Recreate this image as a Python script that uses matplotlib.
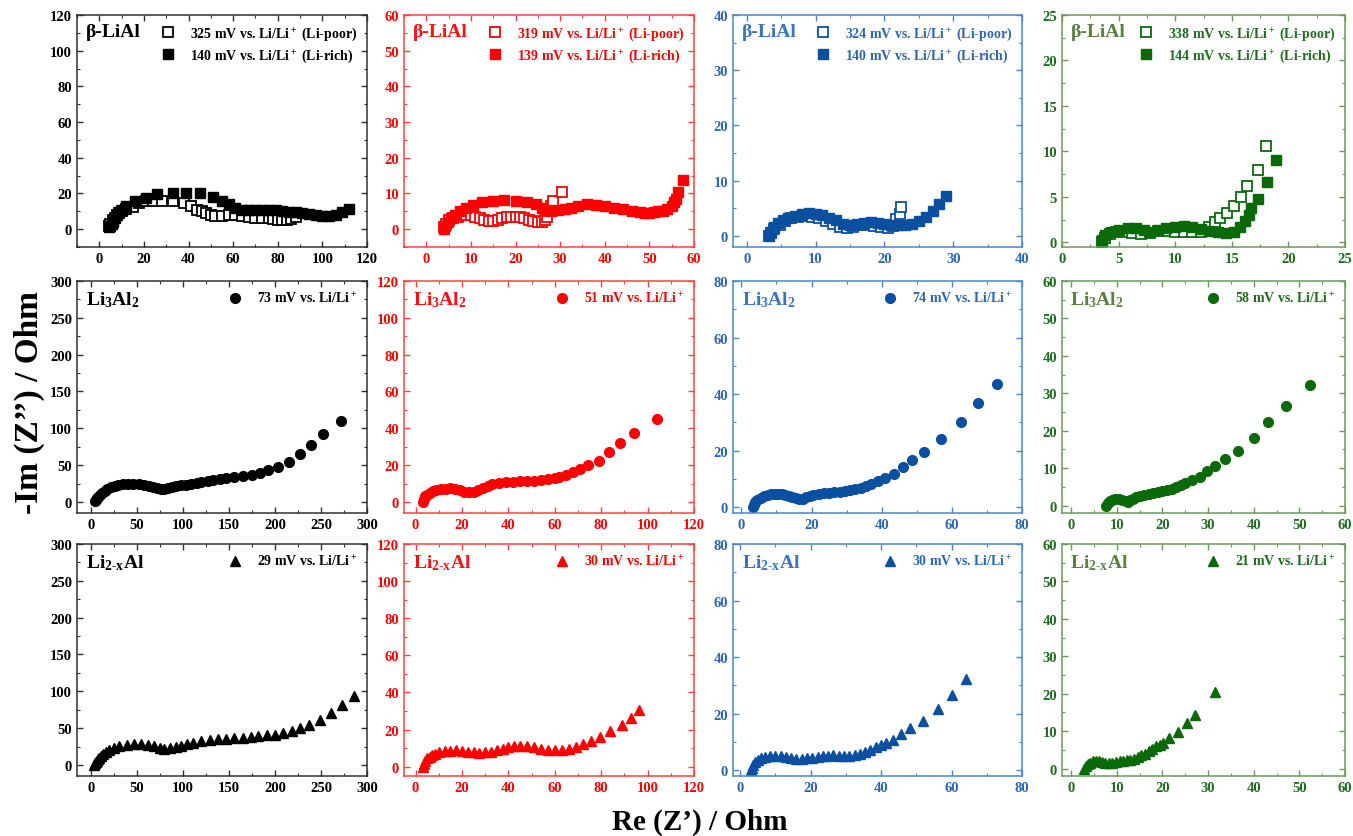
import matplotlib
matplotlib.use('Agg')
import matplotlib.pyplot as plt
from matplotlib.ticker import MultipleLocator, AutoMinorLocator

plt.rcParams['font.family'] = 'Liberation Serif'
plt.rcParams['font.weight'] = 'bold'
plt.rcParams['mathtext.fontset'] = 'custom'
plt.rcParams['mathtext.rm'] = 'Liberation Serif:bold'
plt.rcParams['mathtext.it'] = 'Liberation Serif:bold:italic'
plt.rcParams['mathtext.bf'] = 'Liberation Serif:bold'
plt.rcParams['mathtext.default'] = 'rm'

# ---- beta-LiAl (top row) ----
k_poor_re = [4.5, 5, 6, 7, 8, 9, 10, 12, 15, 18, 21, 24, 28, 33, 38, 41, 44, 46, 48, 50, 52, 55, 58, 61, 64, 67, 70, 73, 76, 78, 80, 82, 84, 86, 88]
k_poor_im = [1.5, 3, 5, 6.5, 8, 9, 10, 11.5, 12.5, 14.5, 15.5, 16, 16, 16, 14.5, 13, 11, 10, 9, 8, 7.5, 7.5, 8, 8, 7.5, 7, 6.5, 6.5, 6, 5.5, 5, 5, 5, 5.5, 7]
k_rich_re = [4.5, 5, 5.5, 6, 7, 8, 9, 10, 12, 16, 21, 26, 33, 39, 45, 51, 55, 58, 61, 64, 67, 70, 73, 76, 79, 82, 85, 88, 91, 94, 97, 100, 103, 106, 109, 112]
k_rich_im = [1, 2, 3, 4, 6, 8, 9.5, 11, 13, 15.5, 17.5, 19.5, 20.5, 20.5, 20, 18, 16, 14, 12, 11, 10.5, 10.5, 10.5, 10.5, 10.5, 10, 9.5, 9.5, 9, 8.5, 8, 7.5, 7.5, 8, 9.5, 11.5]

r_poor_re = [4, 4.5, 5, 6, 7, 8, 9, 10, 11, 12, 13, 14, 15, 16, 17, 18, 19, 20, 21, 22, 23, 24, 25, 26, 26.5, 27, 27.5, 28, 28.5, 30.5]
r_poor_im = [0.5, 1.5, 2.5, 3, 3.5, 4, 4, 4, 3.5, 3, 2.5, 2.2, 2.2, 2.5, 3, 3.3, 3.5, 3.5, 3.3, 3, 2.7, 2.3, 2, 2, 2.5, 3.5, 5, 6.5, 8, 10.3]
r_rich_re = [4, 4.3, 4.8, 5.5, 6.5, 7.5, 9, 10.5, 12.5, 15, 17.5, 20, 22.5, 24.5, 26, 27, 28, 29.5, 31, 32.5, 34, 36, 38, 40, 42, 44, 46, 48, 49, 50, 51, 52, 53, 54, 55, 55.5, 56, 56.5, 57.5]
r_rich_im = [0, 1, 2, 3, 4, 5, 6, 6.8, 7.5, 8, 8.3, 8, 7.6, 7, 6, 5.5, 5.2, 5.3, 5.7, 6, 6.5, 7, 6.8, 6.5, 6, 5.6, 5.2, 4.8, 4.6, 4.6, 4.7, 5, 5.2, 5.7, 6.5, 7.5, 8.5, 10.3, 13.8]

b_poor_re = [3.2, 3.5, 4, 4.8, 5.5, 6.5, 7.5, 8.5, 9.5, 10.5, 11.5, 12.5, 13.5, 14.5, 15.5, 16.5, 17.5, 18.5, 19.5, 20.5, 21.2, 21.7, 22.2, 22.4]
b_poor_im = [0, 0.5, 1.2, 2, 2.7, 3.2, 3.5, 3.6, 3.5, 3.2, 2.7, 2.2, 1.7, 1.5, 1.7, 1.9, 1.9, 1.8, 1.6, 1.5, 1.8, 3, 4, 5.3]
b_rich_re = [3.2, 3.5, 4, 4.5, 5.2, 6, 7, 8, 9, 10, 11, 12, 13, 14, 15, 16, 17, 18, 19, 20, 21, 22, 23, 24, 25, 26, 27, 28, 29]
b_rich_im = [0, 0.8, 1.6, 2.3, 2.8, 3.3, 3.7, 4, 4.1, 4, 3.8, 3.3, 2.8, 2.2, 2, 2.2, 2.4, 2.5, 2.4, 2.2, 2, 1.9, 1.9, 2.2, 2.7, 3.4, 4.5, 5.8, 7.2]

g_poor_re = [3.5, 3.8, 4.2, 4.8, 5.5, 6.2, 7, 7.8, 8.5, 9.3, 10, 10.8, 11.5, 12.3, 13, 13.5, 14, 14.6, 15.2, 15.8, 16.3, 17.3, 18]
g_poor_im = [0, 0.5, 0.9, 1.1, 1.1, 1, 0.9, 1, 1.3, 1.3, 1.2, 1.1, 1.1, 1.2, 1.7, 2.2, 2.7, 3.2, 4, 5, 6.2, 8, 10.6]
g_rich_re = [3.5, 3.8, 4.3, 5, 5.8, 6.5, 7.2, 7.8, 8.5, 9.2, 10, 10.8, 11.5, 12.3, 13, 13.8, 14.5, 15.2, 15.7, 16.2, 16.5, 16.7, 17.3, 18.1, 18.9]
g_rich_im = [0.3, 0.8, 1.2, 1.4, 1.6, 1.6, 1.4, 1.2, 1.4, 1.6, 1.7, 1.8, 1.7, 1.5, 1.3, 1.1, 1.0, 1.2, 1.7, 2.4, 3, 3.8, 4.8, 6.6, 9.1]

# ---- Li3Al2 (middle row) ----
k_mid_re = [5, 6, 7, 8, 10, 12, 15, 18, 22, 26, 30, 35, 40, 46, 52, 58, 63, 68, 72, 76, 80, 84, 88, 93, 98, 103, 109, 115, 120, 127, 133, 140, 147, 155, 165, 175, 184, 192, 203, 215, 227, 239, 252, 272]
k_mid_im = [1, 3, 5, 7, 10, 12, 15, 17.5, 20, 22, 23.5, 24.5, 25, 25, 24.5, 23.5, 22, 20, 18.5, 17.5, 17.5, 18.5, 20, 21.5, 22.5, 23.5, 24.5, 26, 27, 28.5, 30, 31.5, 33, 34, 35, 36.5, 39.5, 43.5, 47.5, 54, 65, 78, 92, 110]
r_mid_re = [3, 3.5, 4, 5, 6, 7.5, 9, 11, 13, 15, 17, 19, 21, 23, 25, 27, 29, 31, 33, 36, 39, 42, 45, 48, 51, 54, 57, 60, 62, 65, 68, 71, 74.5, 79, 83.5, 88, 94, 104]
r_mid_im = [0, 1.5, 3, 4, 5, 5.8, 6.4, 7, 7.3, 7.4, 7, 6.4, 5.6, 5.2, 5.5, 6.5, 7.8, 8.8, 9.5, 10.2, 10.7, 11, 11.2, 11.4, 11.5, 11.8, 12.2, 12.8, 13.3, 14.5, 16.3, 18, 20, 22.5, 27, 32, 37.3, 44.8]
b_mid_re = [3.2, 3.5, 4, 4.5, 5.5, 6.5, 7.5, 8.5, 9.5, 10.5, 11.5, 12.5, 13.5, 14.5, 15.5, 16.5, 17.5, 18.5, 19.5, 20.5, 22, 23.5, 25, 26.5, 28, 29.5, 31, 32.5, 34, 35.5, 37, 39, 41, 43.5, 46, 48.5, 52, 57, 62.5, 67.5, 73]
b_mid_im = [0, 1, 2, 2.7, 3.4, 4, 4.4, 4.7, 4.8, 4.8, 4.7, 4.4, 4, 3.6, 3.2, 3, 3.1, 3.6, 4, 4.4, 4.8, 5, 5.2, 5.3, 5.4, 5.7, 6.1, 6.5, 7, 7.6, 8.3, 9.2, 10.2, 11.9, 14.2, 16.8, 19.7, 24, 30, 36.8, 43.5]
g_mid_re = [7.7, 8, 8.5, 9, 9.7, 10.5, 11.2, 12, 12.5, 13, 13.6, 14.3, 15, 16, 17, 18, 19, 20, 21, 22, 23, 24, 25, 26.5, 28.3, 29.8, 31.5, 33.7, 36.6, 40, 43.2, 47, 52.4]
g_mid_im = [0, 0.8, 1.3, 1.6, 1.8, 1.8, 1.5, 1.1, 1.0, 1.4, 1.8, 2.2, 2.5, 2.8, 3.1, 3.3, 3.5, 3.8, 4.1, 4.5, 5, 5.5, 6, 6.7, 7.7, 9.1, 10.6, 12.4, 14.6, 18.1, 22.2, 26.7, 32.2]

# ---- Li2-xAl (bottom row) ----
k_bot_re = [3, 5, 6, 7, 8, 9, 11, 13, 16, 20, 25, 31, 39, 47, 55, 62, 69, 75, 80, 86, 92, 98, 104, 111, 120, 129, 138, 147, 156, 165, 174, 182, 191, 200, 209, 218, 227, 237, 249, 261, 273, 286]
k_bot_im = [0, 2, 4, 6, 8, 10, 12, 15, 17, 20, 23, 25.5, 27.5, 28.5, 28.5, 27.5, 25.5, 23, 22, 22.5, 24, 26, 28, 30, 32, 34, 35, 35.5, 36, 37, 38.5, 39.5, 40, 41, 43, 46.5, 49.5, 54, 61, 70, 81, 93]
r_bot_re = [3, 3.5, 4, 5, 6, 7, 8.5, 10, 12.5, 15, 17.5, 20, 22.5, 25, 27.5, 30, 32.5, 35, 37.5, 40, 42.5, 45, 48, 51, 54, 57, 60, 63, 66, 69, 72, 75.5, 79.5, 84, 89, 93, 96.5]
r_bot_im = [0, 1.5, 3, 4.5, 5.5, 6.3, 7, 7.8, 8.3, 8.7, 8.8, 8.6, 8.2, 7.8, 7.6, 7.7, 8.2, 9, 9.8, 10.5, 11, 11.2, 11, 10.5, 9.8, 9.2, 8.8, 8.8, 9.5, 10.7, 12.2, 13.8, 16, 19, 22.5, 26, 30.5]
b_bot_re = [3, 3.3, 3.7, 4.2, 5, 6, 7, 8.5, 10, 11.5, 13, 14.5, 16, 17.5, 19, 20.5, 22, 23.5, 25, 26.5, 28, 29.5, 31, 32.5, 34, 35.5, 37, 38.5, 40, 41.4, 43.4, 45.6, 48.1, 51.8, 56.2, 60.1, 64.2]
b_bot_im = [0, 1, 2, 3, 3.8, 4.4, 4.8, 5, 5.2, 5.1, 4.8, 4.4, 4.1, 4, 4.2, 4.5, 4.8, 5, 5.2, 5.3, 5.2, 5.1, 5.1, 5.4, 5.9, 6.6, 7.3, 8.1, 8.8, 9.5, 10.7, 12.7, 14.8, 17.5, 21.6, 26.7, 32.2]
g_bot_re = [2.8, 3.2, 3.6, 4.1, 4.7, 5.4, 6.1, 6.8, 7.5, 8.2, 9, 9.8, 10.6, 11.4, 12.2, 13, 13.8, 14.6, 15.4, 16.2, 17, 17.8, 18.6, 19.4, 20.2, 21.5, 23.4, 25.3, 27.2, 31.5]
g_bot_im = [0, 0.6, 1.2, 1.6, 1.9, 2, 1.9, 1.7, 1.5, 1.4, 1.5, 1.8, 2, 2.1, 2.2, 2.3, 2.6, 3, 3.5, 4, 4.6, 5.2, 5.9, 6.4, 6.8, 8.1, 9.8, 12.1, 14.4, 20.4]

top_labels = [['325', '140'], ['319', '139'], ['324', '140'], ['338', '144']]
mid_labels = ['73', '51', '74', '58']
bot_labels = ['29', '30', '30', '21']

marker_col = ['#000000', '#ff0000', '#0b4fa0', '#0a6a0a']
text_col = ['#000000', '#ff0000', '#2a66b4', '#1c6e1c']
title_col = ['#000000', '#ff1010', '#3a74c0', '#5a8040']
spine_col = ['#303030', '#ff4040', '#4a86c8', '#6a9a5a']

xlims = [[(-10, 120), (-5, 60), (-2, 40), (0, 25)],
         [(-15, 300), (-5, 120), (-2.4, 80), (-2, 60)],
         [(-15, 300), (-5, 120), (-2, 80), (-2, 60)]]
ylims = [[(-10, 120), (-5, 60), (-2, 40), (-0.5, 25)],
         [(-15, 300), (-6, 120), (-2, 80), (-2, 60)],
         [(-15, 300), (-5, 120), (-2, 80), (-2, 60)]]
xsteps = [[20, 10, 10, 5], [50, 20, 20, 10], [50, 20, 20, 10]]
ysteps = [[20, 10, 10, 5], [50, 20, 20, 10], [50, 20, 20, 10]]

top_series = [(k_poor_re, k_poor_im, k_rich_re, k_rich_im),
              (r_poor_re, r_poor_im, r_rich_re, r_rich_im),
              (b_poor_re, b_poor_im, b_rich_re, b_rich_im),
              (g_poor_re, g_poor_im, g_rich_re, g_rich_im)]
mid_series = [(k_mid_re, k_mid_im), (r_mid_re, r_mid_im), (b_mid_re, b_mid_im), (g_mid_re, g_mid_im)]
bot_series = [(k_bot_re, k_bot_im), (r_bot_re, r_bot_im), (b_bot_re, b_bot_im), (g_bot_re, g_bot_im)]

fig = plt.figure(figsize=(13.53, 8.37), dpi=100)
W, H = 1353.0, 837.0
col_left = [77, 404, 733, 1062]
col_w = [290, 290, 289, 283]
row_top = [16, 282, 545]
row_h = 232

titles = ['β-LiAl', 'Li$_3$Al$_2$', 'Li$_{2\u2010x}$Al']

for r in range(3):
    for c in range(4):
        ax = fig.add_axes([col_left[c] / W, 1 - (row_top[r] + row_h) / H, col_w[c] / W, row_h / H])
        mc = marker_col[c]
        if r == 0:
            px, py, qx, qy = top_series[c]
            ax.plot(px, py, 's', ms=6.5, mfc='white', mec=mc, mew=1.3, ls='none',
                    label=top_labels[c][0] + ' mV vs. Li/Li$^+$ (Li-poor)')
            ax.plot(qx, qy, 's', ms=6.5, color=mc, ls='none',
                    label=top_labels[c][1] + ' mV vs. Li/Li$^+$ (Li-rich)')
        elif r == 1:
            x, y = mid_series[c]
            ax.plot(x, y, 'o', ms=7, color=mc, ls='none', label=mid_labels[c] + ' mV vs. Li/Li$^+$')
        else:
            x, y = bot_series[c]
            ax.plot(x, y, '^', ms=7.5, color=mc, ls='none', label=bot_labels[c] + ' mV vs. Li/Li$^+$')

        ax.set_xlim(*xlims[r][c])
        ax.set_ylim(*ylims[r][c])
        ax.xaxis.set_major_locator(MultipleLocator(xsteps[r][c]))
        ax.yaxis.set_major_locator(MultipleLocator(ysteps[r][c]))
        ax.xaxis.set_minor_locator(AutoMinorLocator(2))
        ax.yaxis.set_minor_locator(AutoMinorLocator(2))
        ax.tick_params(which='both', direction='in', top=True, right=True,
                       color=spine_col[c], labelcolor=text_col[c], labelsize=10.5)
        ax.tick_params(which='major', length=4, width=1.0)
        ax.tick_params(which='minor', length=2, width=0.8)
        for s in ax.spines.values():
            s.set_color(spine_col[c])
            s.set_linewidth(1.1)
        for lab in ax.get_xticklabels() + ax.get_yticklabels():
            lab.set_fontweight('bold')

        ax.text(0.03, 0.965, titles[r], transform=ax.transAxes, ha='left', va='top',
                fontsize=14, fontweight='bold', color=title_col[c])
        ax.legend(loc='upper right', frameon=False, labelcolor=text_col[c],
                  handletextpad=0.6, borderaxespad=0.3, labelspacing=0.35,
                  prop={'weight': 'bold', 'size': 10})

fig.text(700 / W, 1 - 822 / H, 'Re (Z\u2019) / Ohm', ha='center', va='center',
         fontsize=21, fontweight='bold')
fig.text(29 / W, 1 - 402 / H, '-Im (Z\u2019\u2019) / Ohm', ha='center', va='center',
         fontsize=24, fontweight='bold', rotation=90)

fig.savefig('out.png', dpi=100)
